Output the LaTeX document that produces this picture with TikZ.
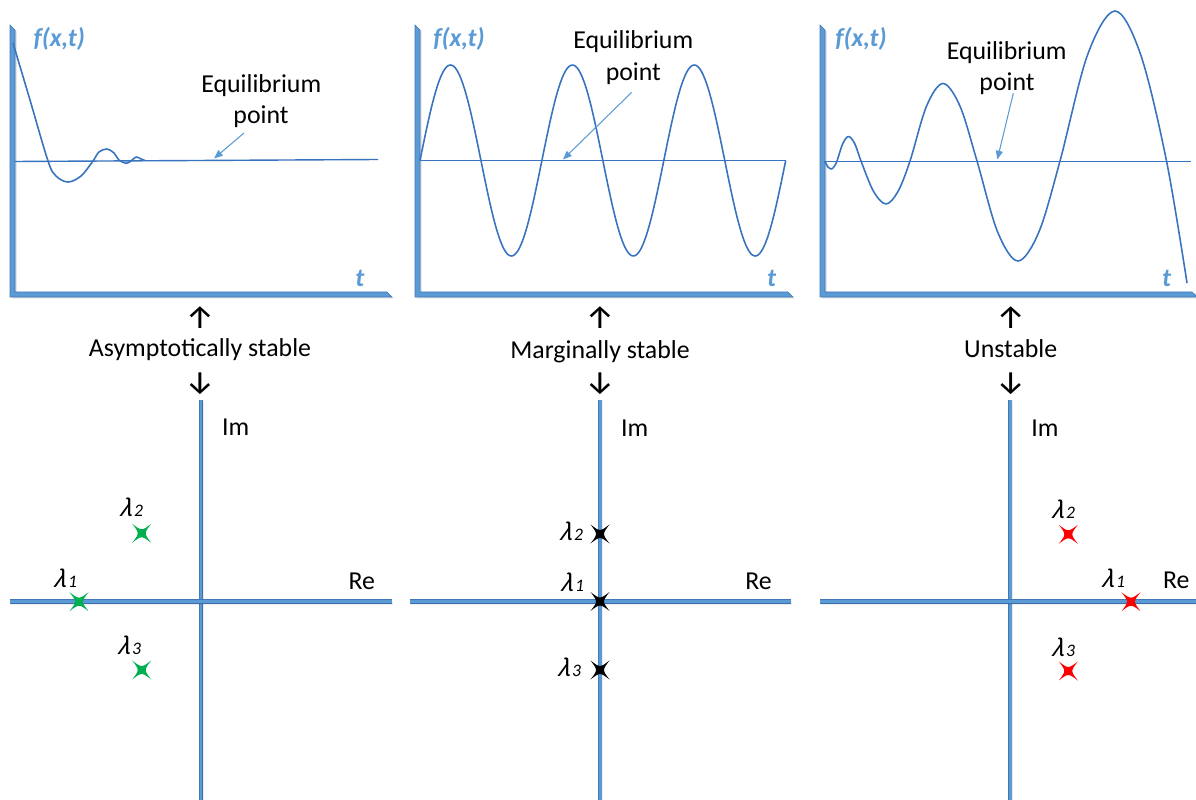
\documentclass[tikz,border=0pt]{standalone}
\usepackage{fontspec}
\setmainfont{Carlito}
\newfontfamily\arrowfont{Fira Sans}
\usetikzlibrary{arrows.meta}
\definecolor{axisblue}{RGB}{91,155,213}
\definecolor{axisedge}{RGB}{65,120,185}
\definecolor{curveblue}{RGB}{55,115,190}
\definecolor{stargreen}{RGB}{0,176,80}
\definecolor{starred}{RGB}{255,0,0}
\tikzset{
  txt/.style={inner sep=0pt, font=\fontsize{14.7}{17}\selectfont},
  arr/.style={inner sep=0pt, font=\fontsize{18.5}{20}\selectfont\arrowfont},
  ftxt/.style={inner sep=0pt, text=axisblue, font=\fontsize{14.7}{17}\selectfont\bfseries\itshape},
  lam/.style={inner sep=0pt, anchor=base west, font=\fontsize{15.5}{17}\selectfont\itshape},
  framefill/.style={fill=axisblue, draw=axisedge, line width=0.3pt},
  frameshadow/.style={fill=black, opacity=0.15},
  eqline/.style={draw=curveblue, line width=0.8pt},
  curve/.style={draw=curveblue, line width=0.9pt, line join=round},
  pointer/.style={draw=axisblue, line width=0.6pt, -{Triangle[length=5pt,width=4pt]}},
  planeaxis/.style={draw=axisblue, line width=1.7pt,
     preaction={draw=axisedge, line width=2.4pt},
     preaction={draw=black, opacity=0.07, line width=2.4pt, transform canvas={shift={(0.7pt,-0.7pt)}}}},
  xstar/.pic={\fill (9.5,9.5) .. controls (0,2.2) .. (-9.5,9.5) .. controls (-2.2,0) .. (-9.5,-9.5) .. controls (0,-2.2) .. (9.5,-9.5) .. controls (2.2,0) .. (9.5,9.5) -- cycle;}
}
\newfontfamily\lamfont[FakeSlant=0.22]{Carlito}
\newcommand{\lamlab}[1]{{\lamfont λ}\kern1.2pt{\fontsize{10}{11}\selectfont\itshape #1}}
\begin{document}
\begin{tikzpicture}[x=0.02cm, y=-0.02cm]
\useasboundingbox (0,0) rectangle (1196,800);

% ---------- top frames ----------
\fill[frameshadow] (11.5,26.5) -- (16.5,31.5) -- (16.5,293.5) -- (388.5,293.5) -- (393.5,298.5) -- (11.5,298.5) -- cycle;
\filldraw[framefill] (10,25) -- (15,30) -- (15,292) -- (387,292) -- (392,297) -- (10,297) -- cycle;
\fill[frameshadow] (416.5,26.5) -- (421.5,31.5) -- (421.5,293.5) -- (789.5,293.5) -- (794.5,298.5) -- (416.5,298.5) -- cycle;
\filldraw[framefill] (415,25) -- (420,30) -- (420,292) -- (788,292) -- (793,297) -- (415,297) -- cycle;
\fill[frameshadow] (821.5,26.5) -- (826.5,31.5) -- (826.5,293.5) -- (1196,293.5) -- (1196,298.5) -- (821.5,298.5) -- cycle;
\filldraw[framefill] (820,25) -- (825,30) -- (825,292) -- (1192,292) -- (1196,296) -- (1196,297) -- (820,297) -- cycle;

% ---------- panel 1 ----------
\draw[eqline] (15,161.5) -- (378,159.5);
\draw[curve] plot[smooth, tension=0.55] coordinates {(13,43) (30,100) (48,161) (56,176) (68,182) (81,176) (93,161) (99,152) (107,149) (114,153) (119,160) (126,163.3) (131,161) (136,157) (141,159) (145,160.5)};
\node[ftxt, anchor=base west] (f1) at (33.3,46.5) {f(x,t)};
\node[ftxt, anchor=base west] (t1) at (355,286.7) {t};
\node[txt, anchor=base] (eq1) at (261.3,92.3) {Equilibrium};
\node[txt, anchor=base] (pt1) at (261,123.3) {point};
\coordinate (a1s) at (244,133);
\coordinate (a1e) at (214,158.5);
\draw[pointer] (a1s) -- (a1e);

% ---------- panel 2 ----------
\draw[eqline] (420,160.5) -- (786,160.5);
\draw[curve] plot[domain=0:365.7, samples=240] ({420+\x},{160.5-95.5*sin(2.9532*\x)});
\node[ftxt, anchor=base west] (f2) at (433,46.5) {f(x,t)};
\node[ftxt, anchor=base west] (t2) at (766.7,287) {t};
\node[txt, anchor=base] (eq2) at (633.3,48.3) {Equilibrium};
\node[txt, anchor=base] (pt2) at (633.3,81) {point};
\coordinate (a2s) at (631.7,92.3);
\coordinate (a2e) at (563,159.5);
\draw[pointer] (a2s) -- (a2e);

% ---------- panel 3 ----------
\draw[eqline] (824,161.5) -- (1191,161.5);
\draw[curve] plot[smooth, tension=0.55] coordinates {(825,161.5) (828,167) (831.5,169) (834.5,166) (837,161) (842.75,143.7) (848.5,136.5) (854.75,143.7) (861,161) (873.5,191.4) (886,204) (898,191.4) (910,161) (926.5,106.2) (943,83.5) (960,106.2) (977,161) (997.5,231.7) (1018,261) (1039,231.7) (1060,161) (1087.5,55) (1115,11) (1140.75,55) (1166.5,161) (1187,283)};
\node[ftxt, anchor=base west] (f3) at (835,46.5) {f(x,t)};
\node[ftxt, anchor=base west] (t3) at (1161.7,287) {t};
\node[txt, anchor=base] (eq3) at (1006.7,60) {Equilibrium};
\node[txt, anchor=base] (pt3) at (1007,90.7) {point};
\coordinate (a3s) at (1013.3,93.3);
\coordinate (a3e) at (997.3,159.5);
\draw[pointer] (a3s) -- (a3e);

% ---------- middle labels ----------
\node[arr] (up1) at (200,318) {↑};
\node[txt, anchor=base] (lab1) at (200,357) {Asymptotically stable};
\node[arr] (dn1) at (200,384) {↓};
\node[arr] (up2) at (600,318) {↑};
\node[txt, anchor=base] (lab2) at (600,358.3) {Marginally stable};
\node[arr] (dn2) at (600,384) {↓};
\node[arr] (up3) at (1010.7,318) {↑};
\node[txt, anchor=base] (lab3) at (1010.7,357.3) {Unstable};
\node[arr] (dn3) at (1010.7,384) {↓};

% ---------- complex planes ----------
\draw[planeaxis] (201,400) -- (201,800);
\draw[planeaxis] (10,601.5) -- (392,601.5);
\draw[planeaxis] (600,400) -- (600,800);
\draw[planeaxis] (410,601.5) -- (791,601.5);
\draw[planeaxis] (1010,400) -- (1010,800);
\draw[planeaxis] (820,601.5) -- (1196,601.5);

\node[txt, anchor=base west] (im1) at (221.7,435.7) {Im};
\node[txt, anchor=base west] (re1) at (348.3,589) {Re};
\node[txt, anchor=base west] (im2) at (620.7,436.7) {Im};
\node[txt, anchor=base west] (re2) at (745,589.3) {Re};
\node[txt, anchor=base west] (im3) at (1031,436.5) {Im};
\node[txt, anchor=base west] (re3) at (1162.7,588.3) {Re};

% eigenvalues panel 1
\pic[stargreen] (s12) at (141.7,533.3) {xstar};
\pic[stargreen] (s11) at (79,601.7) {xstar};
\pic[stargreen] (s13) at (141.7,670) {xstar};
\node[lam] (l12) at (119,516.7) {\lamlab{2}};
\node[lam] (l11) at (53,587.3) {\lamlab{1}};
\node[lam] (l13) at (117,654) {\lamlab{3}};

% eigenvalues panel 2
\pic[black] (s22) at (600,534) {xstar};
\pic[black] (s21) at (600,601.5) {xstar};
\pic[black] (s23) at (600,670) {xstar};
\node[lam] (l22) at (559,540) {\lamlab{2}};
\node[lam] (l21) at (560,591.7) {\lamlab{1}};
\node[lam] (l23) at (557,676.7) {\lamlab{3}};

% eigenvalues panel 3
\pic[starred] (s32) at (1068.3,534.3) {xstar};
\pic[starred] (s31) at (1131,601.7) {xstar};
\pic[starred] (s33) at (1068.3,671) {xstar};
\node[lam] (l32) at (1051,518.3) {\lamlab{2}};
\node[lam] (l31) at (1101,587.3) {\lamlab{1}};
\node[lam] (l33) at (1051,656.7) {\lamlab{3}};
\end{tikzpicture}
\end{document}
